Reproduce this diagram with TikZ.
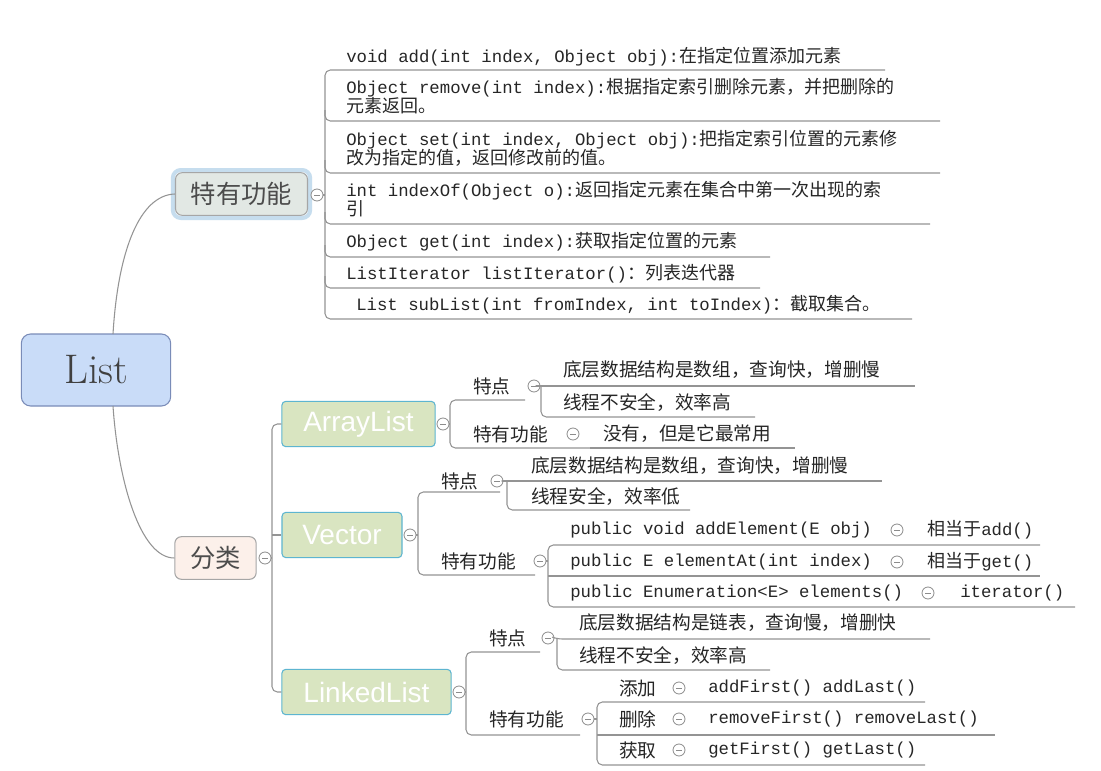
\documentclass[tikz,border=0pt]{standalone}
\usepackage{fontspec}
\setmonofont{Liberation Mono}
\setsansfont{Liberation Sans}
\newfontfamily\cjk{Noto Sans CJK SC}
\newcommand\zh[1]{{\fontsize{13.5}{15}\cjk #1}}
\definecolor{rootf}{HTML}{C9DCF8}
\definecolor{rootd}{HTML}{7A8CB8}
\definecolor{tgf}{HTML}{E2E8E4}
\definecolor{tgglow}{HTML}{C6DDEE}
\definecolor{clsf}{HTML}{D9E5C1}
\definecolor{clsd}{HTML}{5DB5D0}
\definecolor{flf}{HTML}{FCF0EA}
\begin{document}
\begin{tikzpicture}[x=0.75pt,y=-0.75pt,
  ln/.style={draw=black!42,line width=0.8pt,rounded corners=4pt},
  cur/.style={draw=black!42,line width=0.8pt},
  lf/.style={anchor=west,inner sep=0pt,text=black!85,font=\fontsize{13}{15}\ttfamily},
  sub/.style={anchor=west,inner sep=0pt,text=black!85,font=\fontsize{14}{16}\cjk},
  big/.style={draw=black!35,rounded corners=5pt,line width=0.8pt,minimum height=32pt,inner sep=0pt,text=black!70,font=\fontsize{19}{21}\cjk},
  cls/.style={draw=clsd,fill=clsf,rounded corners=3pt,line width=0.8pt,minimum height=34pt,inner sep=0pt,text=white,font=\fontsize{21}{23}\sffamily},
  cc/.style={circle,draw=black!45,fill=white,minimum size=9pt,inner sep=0pt,line width=0.6pt,path picture={\draw[black!45,line width=0.6pt] ([xshift=-2pt]path picture bounding box.center)--([xshift=2pt]path picture bounding box.center);}}]
\useasboundingbox (0,0) rectangle (1101,771);
\fill[white] (0,0) rectangle (1101,771);
% root
\node[draw=rootd,fill=rootf,rounded corners=7pt,line width=0.8pt,minimum width=112pt,minimum height=54pt,font=\fontsize{31}{33}\selectfont\addfontfeatures{LetterSpace=8},text=black!75] (list) at (96,370) {List};
\node[draw=tgglow,line width=3pt,rounded corners=6pt,minimum width=103pt,minimum height=36pt] at (241.5,194) {};
\node[big,fill=tgf,minimum width=99pt] (tg) at (241.5,194) {特有功能};
\node[big,fill=flf,minimum width=61pt] (fl) at (215.5,558) {分类};
\draw[cur] (113,334) .. controls (118,250) and (140,195) .. (tg.west);
\draw[cur] (113,406) .. controls (118,480) and (140,558) .. (fl.west);
% special functions group
\node[cc] (c1) at (317,195) {};
\draw[cur] (c1.east) -- (325,195);
\draw[ln] (885,70) -- (325,70) -- (325,319) -- (912,319);
\draw[ln] (325,110) -- (325,121) -- (940,121);
\draw[ln] (325,160) -- (325,173) -- (940,173);
\draw[ln] (325,212) -- (325,224) -- (930,224);
\draw[ln] (325,245) -- (325,257) -- (770,257);
\draw[ln] (325,276) -- (325,288) -- (760,288);
\node[lf] (a1) at (346,57) {void add(int index, Object obj):\zh{在指定位置添加元素}};
\node[lf] (a2) at (346,88) {Object remove(int index):\zh{根据指定索引删除元素，并把删除的}};
\node[lf] (a2b) at (346,106) {\zh{元素返回。}};
\node[lf] (a3) at (346,140) {Object set(int index, Object obj):\zh{把指定索引位置的元素修}};
\node[lf] (a3b) at (346,158) {\zh{改为指定的值，返回修改前的值。}};
\node[lf] (a4) at (346,191) {int indexOf(Object o):\zh{返回指定元素在集合中第一次出现的索}};
\node[lf] (a4b) at (346,209) {\zh{引}};
\node[lf] (a5) at (346,242) {Object get(int index):\zh{获取指定位置的元素}};
\node[lf] (a6) at (346,274) {ListIterator listIterator()\zh{：列表迭代器}};
\node[lf] (a7) at (356,305) {List subList(int fromIndex, int toIndex)\zh{：截取集合。}};
% classification
\node[cc] (c2) at (265,558) {};
\node[cls,minimum width=115pt] (al) at (358.5,424) {ArrayList};
\node[cls,minimum width=90pt] (vc) at (342,535) {Vector};
\node[cls,minimum width=127pt] (ll) at (366.5,692) {LinkedList};
\draw[cur] (c2.east) -- (272,558);
\draw[ln] (al.west) -- (272,424) -- (272,692) -- (ll.west);
\draw[cur] (272,535) -- (vc.west);
% ArrayList
\node[cc] (c3) at (443,424) {};
\draw[cur] (c3.east) -- (450,424);
\node[sub] (ap) at (473,386) {特点};
\node[sub] (af) at (473,434) {特有功能};
\draw[ln] (525,400) -- (450,400) -- (450,448) -- (590,448);
\node[cc] (c4) at (534,386) {};
\draw[ln] (c4.east) -- (541,386) -- (915,386);
\draw[ln] (541,386) -- (541,417) -- (755,417);
\node[sub] at (563,370) {底层数据结构是数组，查询快，增删慢};
\node[sub] at (563,403) {线程不安全，效率高};
\node[cc] (c5) at (573,434) {};
\draw[cur] (590,448) -- (795,448);
\node[sub] at (603,434) {没有，但是它最常用};
% Vector
\node[cc] (c6) at (410,535) {};
\draw[cur] (c6.east) -- (418,535);
\node[sub] at (441,481) {特点};
\node[sub] at (441,561) {特有功能};
\draw[ln] (500,492) -- (418,492) -- (418,575) -- (535,575);
\node[cc] (c7) at (497,481) {};
\draw[ln] (c7.east) -- (507,481) -- (882,481);
\draw[ln] (507,481) -- (507,510) -- (690,510);
\node[sub] at (531,466) {底层数据结构是数组，查询快，增删慢};
\node[sub] at (531,497) {线程安全，效率低};
\node[cc] (c8) at (540,561) {};
\draw[ln] (c8.east) -- (548,561);
\draw[ln] (1040,545) -- (548,545) -- (548,607) -- (1075,607);
\draw[cur] (548,576) -- (1040,576);
\node[lf] at (570,530) {public void addElement(E obj)};
\node[lf] at (570,562) {public E elementAt(int index)};
\node[lf] at (570,593) {public Enumeration<E> elements()};
\node[cc] at (897,530) {}; \node[lf] at (927,530) {\zh{相当于}add()};
\node[cc] at (897,562) {}; \node[lf] at (927,562) {\zh{相当于}get()};
\node[cc] at (928,593) {}; \node[lf] at (960,593) {iterator()};
% LinkedList
\node[cc] (c9) at (459,692) {};
\draw[cur] (c9.east) -- (466,692);
\node[sub] at (489,638) {特点};
\node[sub] at (489,719) {特有功能};
\draw[ln] (540,652) -- (466,652) -- (466,735) -- (580,735);
\node[cc] (c10) at (548,638) {};
\draw[ln] (c10.east) -- (557,639) -- (930,639);
\draw[ln] (557,639) -- (557,670) -- (770,670);
\node[sub] at (579,623) {底层数据结构是链表，查询慢，增删快};
\node[sub] at (579,656) {线程不安全，效率高};
\node[cc] (c11) at (588,719) {};
\draw[ln] (c11.east) -- (597,719);
\draw[ln] (925,702) -- (597,702) -- (597,765) -- (925,765);
\draw[cur] (597,735) -- (995,735);
\node[sub] at (619,688) {添加}; \node[cc] at (679,688) {}; \node[lf] at (708,688) {addFirst() addLast()};
\node[sub] at (619,719) {删除}; \node[cc] at (679,719) {}; \node[lf] at (708,719) {removeFirst() removeLast()};
\node[sub] at (619,750) {获取}; \node[cc] at (679,750) {}; \node[lf] at (708,750) {getFirst() getLast()};
\end{tikzpicture}
\end{document}
